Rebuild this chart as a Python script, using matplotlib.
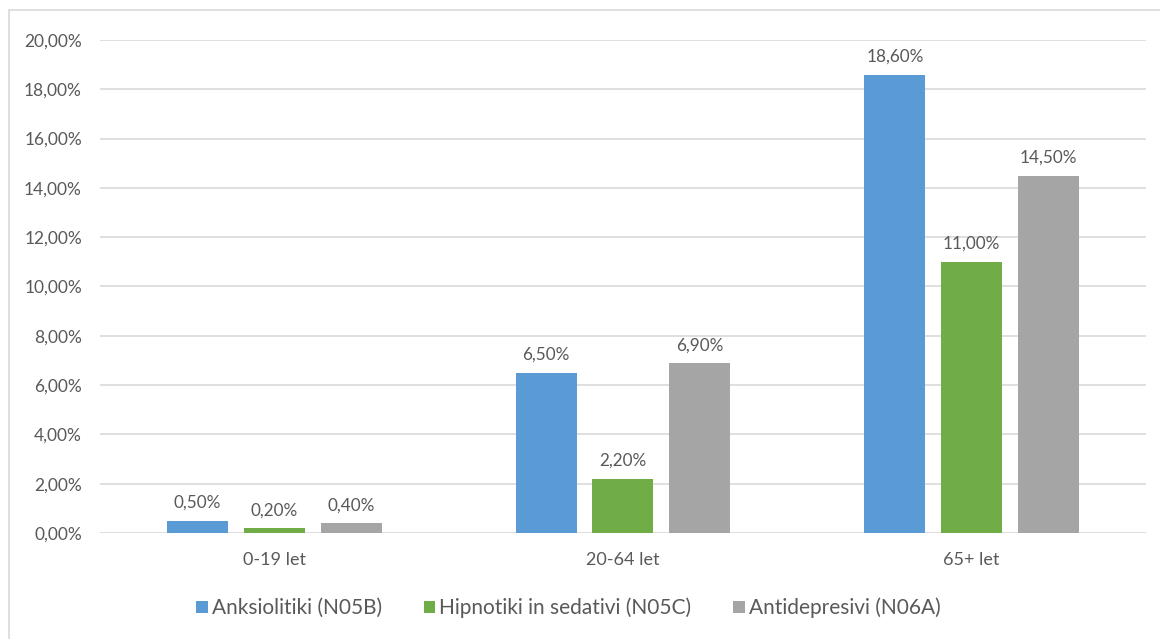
import matplotlib.pyplot as plt
import matplotlib.patches as patches
import numpy as np

categories = ['0-19 let', '20-64 let', '65+ let']
series_names = ['Anksiolitiki (N05B)', 'Hipnotiki in sedativi (N05C)', 'Antidepresivi (N06A)']
anksiolitiki = [0.50, 6.50, 18.60]
hipnotiki = [0.20, 2.20, 11.00]
antidepresivi = [0.40, 6.90, 14.50]
y_ticks = [0, 2, 4, 6, 8, 10, 12, 14, 16, 18, 20]

colors = ['#5B9BD5', '#70AD47', '#A5A5A5']
text_color = '#595959'

plt.rcParams['font.family'] = ['Lato', 'DejaVu Sans']

fig = plt.figure(figsize=(11.6, 6.39), dpi=100)
ax = fig.add_axes([0.0862, 0.1659, 0.9017, 0.7715])

# chart frame, cut off on the right and bottom like the original
fig.patches.append(patches.Rectangle((9 / 1160, -0.05), 1.1, 1 - 10 / 639 + 0.05,
                                     transform=fig.transFigure, fill=False,
                                     edgecolor='#D9D9D9', linewidth=1.2))

x = np.arange(len(categories))
width = 0.175
step = 0.22
all_series = [anksiolitiki, hipnotiki, antidepresivi]
for i, (vals, name) in enumerate(zip(all_series, series_names)):
    pos = x + (i - 1) * step
    ax.bar(pos, vals, width, color=colors[i], label=name, zorder=3)
    for px, v in zip(pos, vals):
        ax.annotate('{:.2f}%'.format(v).replace('.', ','), (px, v),
                    xytext=(0, 7), textcoords='offset points',
                    ha='center', va='bottom', fontsize=12.3, color=text_color)

ax.set_xlim(-0.5, 2.5)
ax.set_ylim(0, 20)
ax.set_yticks(y_ticks)
ax.set_yticklabels(['{:.2f}%'.format(t).replace('.', ',') for t in y_ticks])
ax.set_xticks(x)
ax.set_xticklabels(categories)
ax.tick_params(axis='both', length=0, colors=text_color)
ax.tick_params(axis='y', pad=13, labelsize=12.5)
ax.tick_params(axis='x', pad=14, labelsize=13)
ax.grid(axis='y', color='#D9D9D9', linewidth=1.2, zorder=0)
for s in ax.spines.values():
    s.set_visible(False)

leg = fig.legend(loc='center', bbox_to_anchor=(0.49, 0.0485), ncol=3, frameon=False,
                 fontsize=15, handlelength=0.55, handleheight=0.55, handletextpad=0.2,
                 columnspacing=2.0)
for t in leg.get_texts():
    t.set_color(text_color)

fig.savefig('out.png', dpi=100)
